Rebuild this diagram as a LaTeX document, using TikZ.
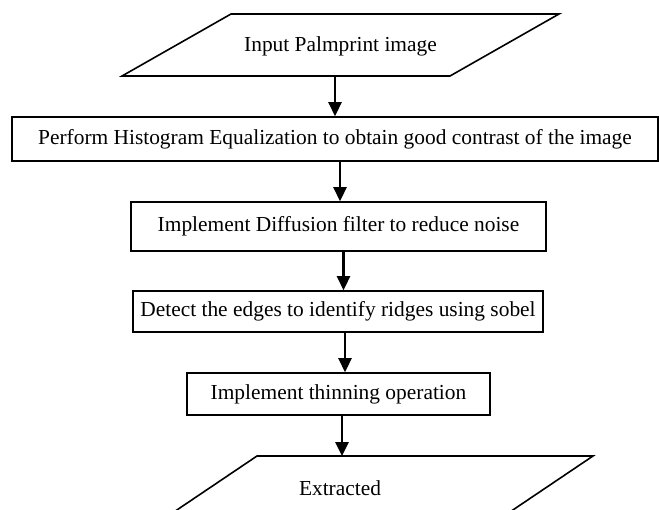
\documentclass[tikz,border=0pt]{standalone}
\usepackage{fontspec}
\setmainfont{Liberation Serif}
\usetikzlibrary{arrows.meta}

\tikzset{
  stepbox/.style={draw, line width=1.6pt, rectangle, inner sep=0pt},
  iobox/.style={draw, line width=1.6pt, line join=miter},
  flow/.style={line width=2.6pt, -{Triangle[length=14pt,width=13pt]}}
}

\begin{document}
\begin{tikzpicture}[x=1pt, y=-1pt, font=\fontsize{21.4}{25}\selectfont]
	\useasboundingbox (0,0) rectangle (659,509);
	\clip (0,0) rectangle (659,509);
	% input / output shapes
	\draw[iobox] (231,14) -- (559,14) -- (450,76) -- (122,76) -- cycle;
	\node (inp) at (340.5,46) {Input Palmprint image};
	\coordinate (inpb) at (335,76);
	\draw[iobox] (257,456) -- (593,456) -- (498,520) -- (162,520) -- cycle;
	\node (out) at (340,488) {Extracted};
	\coordinate (outt) at (342,456);
	% processing steps
	\node[stepbox, minimum width=646pt, minimum height=44pt] (hist) at (335,139) {Perform Histogram Equalization to obtain good contrast of the image};
	\node[stepbox, minimum width=415pt, minimum height=49pt] (diff) at (338.5,226.5) {Implement Diffusion filter to reduce noise};
	\node[stepbox, minimum width=410pt, minimum height=41pt] (edge) at (338,311.5) {Detect the edges to identify ridges using sobel};
	\node[stepbox, minimum width=303pt, minimum height=42pt] (thin) at (338.5,394) {Implement thinning operation};
	% arrows
	\draw[flow] (inpb) -- (inpb |- hist.north);
	\draw[flow] (hist.south) ++(5,0) coordinate (h2) -- (h2 |- diff.north);
	\draw[flow] (diff.south) ++(5,0) coordinate (d2) -- (d2 |- edge.north);
	\draw[flow] (edge.south) ++(7,0) coordinate (e2) -- (e2 |- thin.north);
	\draw[flow] (outt |- thin.south) -- (outt);
\end{tikzpicture}
\end{document}
